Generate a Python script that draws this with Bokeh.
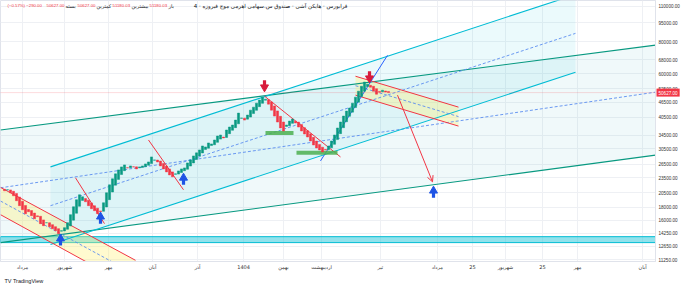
import math
from bokeh.plotting import figure
from bokeh.models import Range1d, FixedTicker, NumeralTickFormatter, Label, Arrow, OpenHead, Span
from bokeh.embed import file_html
from bokeh.resources import INLINE

# ---------------- data ----------------
closes = [20900, 21090, 20530, 19980, 19110, 18270, 17620, 17000, 17310, 16700,
          16250, 16550, 15540, 15260, 15680, 15130, 14850, 14590, 14200, 14590,
          14990, 15680, 16850, 18100, 19280, 20160, 19800, 18930, 18270, 17780,
          17470, 17000, 17310, 18760, 20530, 22050, 23280, 24340, 25230, 25920,
          26390, 25690, 26150, 25920, 25460, 25920, 26150, 26620, 27100, 28360,
          27600, 27100, 26150, 25460, 24780, 24120, 23700, 24340, 25000, 25460,
          25690, 26860, 27600, 28610, 29410, 30200, 31300, 31020, 32160, 31870,
          33030, 34240, 34550, 33650, 36140, 37130, 37800, 39520, 42080, 40250,
          39520, 41340, 43230, 44410, 46040, 47310, 48600, 47730, 45630, 43230,
          40970, 38830, 36800, 35830, 37800, 39170, 39880, 38480, 37130, 35830,
          34860, 33940, 32740, 31580, 30750, 30200, 29670, 30200, 31300, 32740,
          34550, 36800, 38830, 40970, 42850, 44020, 46040, 48600, 51290, 53610,
          55680, 54640, 53130, 51290, 49900, 50830, 51750, 50917, 50627]
first_open = 21200
last_close = 50627

month_ticks = [6.0, 20.0, 34.7, 49.3, 64.3, 79.7, 93.0, 105.7, 125.3, 144.3, 156.0, 167.0, 179.3, 191.0, 212.7]
month_labels = ["مرداد", "شهریور", "مهر", "آبان", "آذر", "1404", "بهمن", "اردیبهشت", "تیر",
                "مرداد", "25", "شهریور", "25", "مهر", "آبان"]
price_ticks = [11250, 12650, 14250, 16000, 18000, 20500, 23500, 26500, 30500, 34500,
               40500, 46500, 52500, 60000, 68000, 80000, 95000, 110000]

# drawings (bar index, price)
green_x = [-1.33, 217.0]
green_top = [36140, 77640]
green_bot = [13100, 28820]
dash_x = [-1.33, 217.0]
dash_y = [21470, 50830]
cyan_x = [15.33, 190.33]
cyan_top = [25920, 122500]
cyan_bot = [12870, 60830]
cyan_mid = [18270, 86340]
ych1_x = [-1.33, 43.67]
ych1_top = [21550, 11170]
ych1_bot = [16850, 8638]
ych1_mid = [19055, 9823]
ych2_x = [117.0, 151.33]
ych2_top = [58670, 44420]
ych2_bot = [49480, 37440]
ych2_mid = [53880, 40780]
band_low, band_high = 13100, 13820
red_x0 = [23.67, 48.0, 86.67]
red_y0 = [23490, 33030, 49040]
red_x1 = [33.33, 59.67, 112.0]
red_y1 = [15540, 21090, 28360]
blue_x = [105.33, 127.67]
blue_y = [27350, 70860]
target_x = [131.0, 142.67]
target_y = [49480, 22660]
support_x0 = [87.0, 97.33]
support_x1 = [96.33, 111.0]
support_y = [35180, 29410]
sell_x = [86.67, 121.67]
sell_y = [54100, 58670]
buy_x = [18.67, 32.0, 59.67, 143.0]
buy_y = [13340, 16250, 23070, 20530]

title_runs = ["(−0.57%) −290.00", "50627.00", "بسته", "50627.00", "کمترین", "51180.03",
              "بیشترین", "51180.03", "باز"]
title_name = "فرابورس · هایکن آشی · صندوق س.سهامی اهرمی موج فیروزه · 4"

# ---------------- figure ----------------
X0, X1 = -1.333, 217.0
Y0, Y1 = 11050, 116100
FRAME_H = 262
K = FRAME_H / (math.log10(Y1) - math.log10(Y0))   # px per decade


def shift(v, k):
    return v * 10 ** (k / K)


p = figure(width=690, height=286, x_range=Range1d(X0, X1), y_range=Range1d(Y0, Y1),
           y_axis_type="log", y_axis_location="right", output_backend="svg",
           toolbar_location=None, min_border_left=0, min_border_right=35,
           min_border_top=0, min_border_bottom=24)
p.background_fill_color = "white"
p.border_fill_color = "white"
p.outline_line_color = "#e0e3eb"

RED = "#f23645"
GREEN = "#089981"
CYAN = "#00bcd4"
BLUE = "#2962ff"
DASH = "#5b8def"
PERS = "DejaVu Sans"
LAT = "Liberation Sans"

# axes
xa = p.xaxis[0]
xa.ticker = FixedTicker(ticks=month_ticks, minor_ticks=[])
xa.major_label_overrides = dict(zip(month_ticks, month_labels))
xa.major_tick_line_color = None
xa.minor_tick_line_color = None
xa.major_tick_out = 0
xa.major_tick_in = 0
xa.minor_tick_out = 0
xa.minor_tick_in = 0
xa.axis_line_color = "#e0e3eb"
xa.major_label_text_font_size = "5px"
xa.major_label_text_font = PERS
xa.major_label_text_color = "#333333"
xa.major_label_standoff = 2

ya = p.yaxis[0]
ya.ticker = FixedTicker(ticks=price_ticks, minor_ticks=[])
ya.formatter = NumeralTickFormatter(format="0.00")
ya.major_tick_line_color = None
ya.minor_tick_line_color = None
ya.major_tick_out = 0
ya.major_tick_in = 0
ya.minor_tick_out = 0
ya.minor_tick_in = 0
ya.axis_line_color = "#e0e3eb"
ya.major_label_text_font_size = "4.6px"
ya.major_label_text_font = LAT
ya.major_label_text_color = "#333333"
ya.major_label_standoff = 3

p.xgrid.ticker = FixedTicker(ticks=month_ticks, minor_ticks=[])
p.ygrid.ticker = FixedTicker(ticks=price_ticks, minor_ticks=[])
p.xgrid.grid_line_color = "#eef0f4"
p.ygrid.grid_line_color = "#eef0f4"

# channel fills
p.patch(green_x + green_x[::-1], green_top + green_bot[::-1], fill_color="#26a6b8", fill_alpha=0.07, line_color=None)
p.patch(cyan_x + cyan_x[::-1], cyan_top + cyan_bot[::-1], fill_color=CYAN, fill_alpha=0.08, line_color=None)
p.quad(left=[X0], right=[X1], bottom=[band_low], top=[band_high], fill_color="#26c6da",
       fill_alpha=0.5, line_color=CYAN, line_width=1)
p.patch(ych1_x + ych1_x[::-1], ych1_top + ych1_bot[::-1], fill_color="#fff176", fill_alpha=0.35, line_color=None)
p.patch(ych2_x + ych2_x[::-1], ych2_top + ych2_bot[::-1], fill_color="#fff176", fill_alpha=0.35, line_color=None)

# channel lines
p.line(green_x, green_top, line_color=GREEN, line_width=1.1)
p.line(green_x, green_bot, line_color=GREEN, line_width=1.1)
p.line(dash_x, dash_y, line_color=DASH, line_width=0.9, line_dash="3 2")
p.line(cyan_x, cyan_top, line_color=CYAN, line_width=1.1)
p.line(cyan_x, cyan_bot, line_color=CYAN, line_width=1.1)
p.line(cyan_x, cyan_mid, line_color=DASH, line_width=0.9, line_dash="3 2")
for xs_, t, b, m in [(ych1_x, ych1_top, ych1_bot, ych1_mid), (ych2_x, ych2_top, ych2_bot, ych2_mid)]:
    p.line(xs_, t, line_color=RED, line_width=1)
    p.line(xs_, b, line_color=RED, line_width=1)
    p.line(xs_, m, line_color=DASH, line_width=0.9, line_dash="3 2")

p.segment(x0=red_x0, y0=red_y0, x1=red_x1, y1=red_y1, line_color=RED, line_width=1)
p.line(blue_x, blue_y, line_color=BLUE, line_width=1)
p.segment(x0=support_x0, y0=support_y, x1=support_x1, y1=support_y, line_color="#4caf50",
          line_width=4, line_alpha=0.85, line_cap="butt")
p.add_layout(Arrow(end=OpenHead(size=6, line_color=RED, line_width=1),
                   x_start=target_x[0], y_start=target_y[0], x_end=target_x[1], y_end=target_y[1],
                   line_color=RED, line_width=1))

# last price line
p.add_layout(Span(location=last_close, dimension="width", line_color=RED, line_alpha=0.35,
                  line_width=1, line_dash="1 1"))

# Heikin-Ashi candles
opens = [first_open]
for i in range(1, len(closes)):
    opens.append((opens[-1] + closes[i - 1]) / 2)
xs = list(range(len(closes)))
tops = [max(o, c) for o, c in zip(opens, closes)]
bots = [min(o, c) for o, c in zip(opens, closes)]
cols = [GREEN if c >= o else RED for o, c in zip(opens, closes)]
p.vbar(x=xs, width=0.7, top=tops, bottom=bots, fill_color=cols, line_color=cols, line_width=0.5)

# signal icons
p.segment(x0=sell_x, y0=[shift(v, 0) for v in sell_y], x1=sell_x, y1=[shift(v, 5) for v in sell_y],
          line_color="#d81b3c", line_width=3.2, line_cap="butt")
p.scatter(sell_x, [shift(v, -2) for v in sell_y], marker="inverted_triangle", size=8,
          fill_color="#d81b3c", line_color="#d81b3c")
p.segment(x0=buy_x, y0=[shift(v, 0) for v in buy_y], x1=buy_x, y1=[shift(v, -5) for v in buy_y],
          line_color="#1e53e5", line_width=3.2, line_cap="butt")
p.scatter(buy_x, [shift(v, 2) for v in buy_y], marker="triangle", size=8,
          fill_color="#1e53e5", line_color="#1e53e5")

# title row (inside the frame)
tx = [7, 46, 65, 77, 96, 112, 131, 149, 168]
tc = [RED, RED, "#131722", RED, "#131722", RED, "#131722", RED, "#131722"]
for x, t, c in zip(tx, title_runs, tc):
    is_num = any(ch.isdigit() for ch in t)
    p.add_layout(Label(x=x, y=FRAME_H - 6, x_units="screen", y_units="screen", text=t,
                       text_font_size="4.3px" if is_num else "5px", text_color=c,
                       text_baseline="middle", text_font=LAT if is_num else PERS))
p.add_layout(Label(x=347, y=FRAME_H - 6, x_units="screen", y_units="screen", text=title_name,
                   text_font_size="5.5px", text_color="#131722", text_baseline="middle",
                   text_align="right", text_font=PERS))

# labels outside the frame go into the bottom side panel (not clipped)
p.add_layout(Label(x=656, y=last_close, x_units="screen", y_units="data", text="50627.00",
                   text_font_size="4.6px", text_color="white", text_baseline="middle",
                   text_font=LAT, background_fill_color=RED, padding=2), "below")
p.add_layout(Label(x=4, y=6, x_units="screen", y_units="screen", text="TV  TradingView",
                   text_font_size="5.5px", text_color="#131722", text_baseline="middle",
                   text_font=LAT), "below")

open("out.html", "w").write(file_html(p, INLINE))
